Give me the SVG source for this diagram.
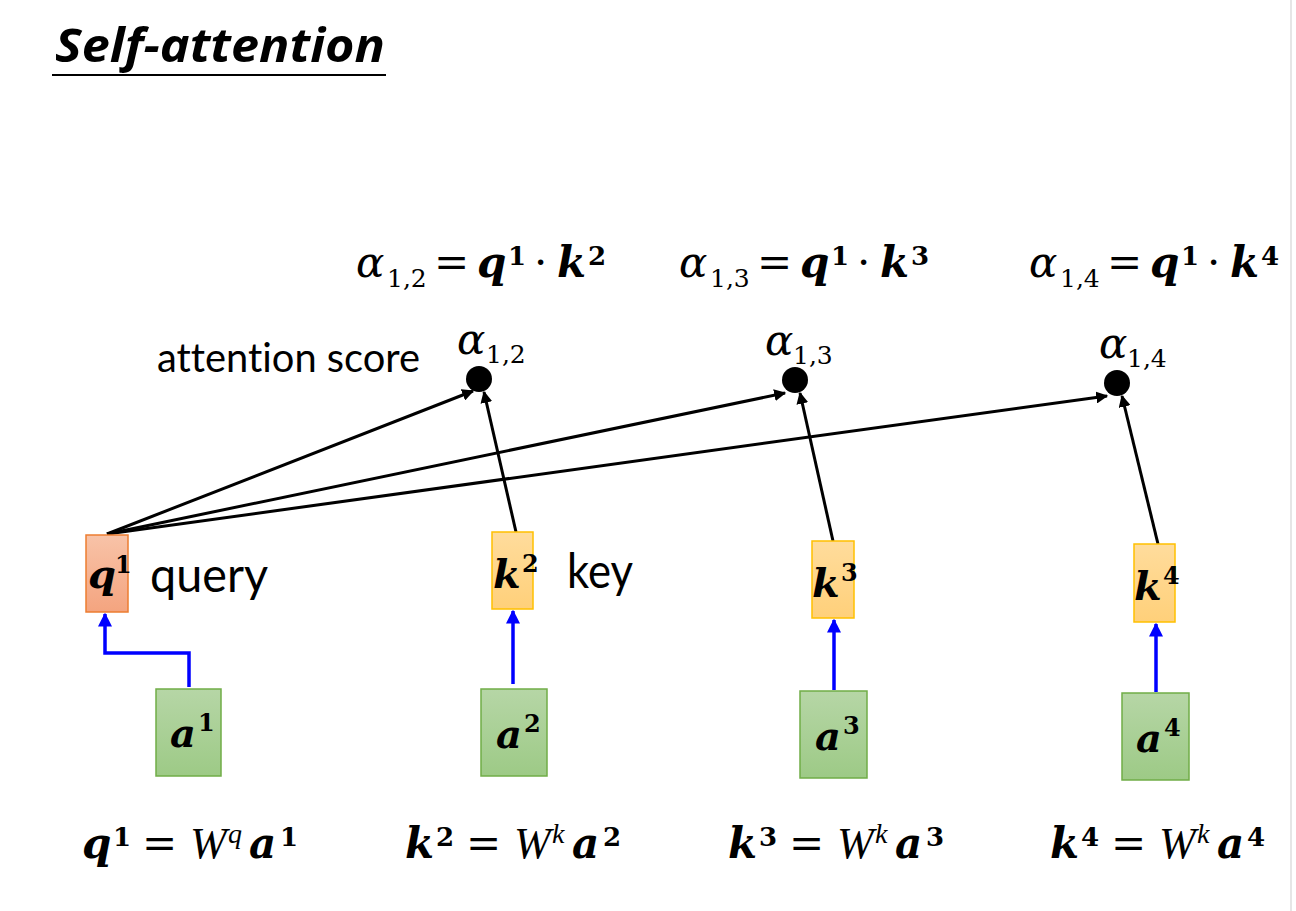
<svg xmlns="http://www.w3.org/2000/svg" width="1296" height="911" viewBox="0 0 1296 911">
<defs>
<linearGradient id="gq" x1="0" y1="0" x2="0" y2="1"><stop offset="0" stop-color="#f8c3a8"/><stop offset="1" stop-color="#f4a47f"/></linearGradient>
<linearGradient id="gk" x1="0" y1="0" x2="0" y2="1"><stop offset="0" stop-color="#ffdc9c"/><stop offset="1" stop-color="#ffd07a"/></linearGradient>
<linearGradient id="ga" x1="0" y1="0" x2="0" y2="1"><stop offset="0" stop-color="#b6d6a6"/><stop offset="1" stop-color="#9dca86"/></linearGradient>
<marker id="ab" viewBox="0 0 10 10" refX="9" refY="5" markerWidth="4" markerHeight="4" orient="auto" markerUnits="strokeWidth"><path d="M0,0 L10,5 L0,10 z" fill="#000"/></marker>
<marker id="au" viewBox="0 0 10 10" refX="9" refY="5" markerWidth="4" markerHeight="4" orient="auto" markerUnits="strokeWidth"><path d="M0,0 L10,5 L0,10 z" fill="#0000ff"/></marker>
</defs>
<style>
.title{font-family:"Open Sans",Lato,sans-serif;font-weight:bold;font-style:italic;font-size:46px;fill:#000;font-variant-ligatures:none}
.lbl{font-family:Lato,"Open Sans",sans-serif;fill:#000;font-variant-ligatures:none}
.m{font-family:"DejaVu Serif","Liberation Serif",serif;font-size:42px;fill:#000}
.bx{font-size:40px}
.it{font-style:italic}
.bi{font-style:italic;font-weight:bold}
.bs{font-family:"DejaVu Serif","Liberation Serif",serif;font-weight:bold;font-size:26px}
.bx .bs{font-size:24px}
.s{font-size:25px}
.w{font-family:"Liberation Serif",serif;font-style:italic;font-size:44px}
.ws{font-family:"Liberation Serif",serif;font-style:italic;font-size:28px}
.q{fill:url(#gq);stroke:#ed7d31;stroke-width:1.5}
.k{fill:url(#gk);stroke:#ffc000;stroke-width:1.5}
.a{fill:url(#ga);stroke:#70ad47;stroke-width:1.5}
.bl{stroke:#000;stroke-width:3;fill:none;marker-end:url(#ab)}
.bu{stroke:#0000ff;stroke-width:3.5;fill:none;marker-end:url(#au)}
</style>
<rect width="1296" height="911" fill="#fff"/>
<line x1="1291" y1="0" x2="1291" y2="911" stroke="#e6e6e6" stroke-width="2"/>
<g id="title">
<text x="55" y="62" class="title" textLength="330" lengthAdjust="spacingAndGlyphs">Self-attention</text>
<line x1="52" y1="75" x2="386" y2="75" stroke="#000" stroke-width="2"/>
</g>
<g id="formulas-top">
<text class="m"><tspan class="it" x="356" y="277">α</tspan><tspan class="s" x="387" y="287">1,2</tspan><tspan x="434" y="277">=</tspan><tspan class="bi" x="477" y="277">q</tspan><tspan class="bs" x="508" y="265">1</tspan><tspan x="534" y="277">·</tspan><tspan class="bi" x="557" y="277">k</tspan><tspan class="bs" x="588" y="265">2</tspan></text>
<text class="m"><tspan class="it" x="679" y="277">α</tspan><tspan class="s" x="710" y="287">1,3</tspan><tspan x="757" y="277">=</tspan><tspan class="bi" x="800" y="277">q</tspan><tspan class="bs" x="831" y="265">1</tspan><tspan x="857" y="277">·</tspan><tspan class="bi" x="880" y="277">k</tspan><tspan class="bs" x="911" y="265">3</tspan></text>
<text class="m"><tspan class="it" x="1029" y="277">α</tspan><tspan class="s" x="1060" y="287">1,4</tspan><tspan x="1107" y="277">=</tspan><tspan class="bi" x="1150" y="277">q</tspan><tspan class="bs" x="1181" y="265">1</tspan><tspan x="1207" y="277">·</tspan><tspan class="bi" x="1230" y="277">k</tspan><tspan class="bs" x="1261" y="265">4</tspan></text>
</g>
<g id="label-attention-score"><text x="157" y="372" class="lbl" font-size="40" textLength="263" lengthAdjust="spacingAndGlyphs">attention score</text></g>
<g id="connectors">
<line x1="107" y1="534" x2="473" y2="391" class="bl"/>
<line x1="107" y1="534" x2="785" y2="393" class="bl"/>
<line x1="107" y1="534" x2="1107" y2="396" class="bl"/>
<line x1="516" y1="532" x2="484" y2="392" class="bl"/>
<line x1="833" y1="541" x2="800" y2="393" class="bl"/>
<line x1="1158" y1="544" x2="1122" y2="396" class="bl"/>
<polyline points="189,687 189,653 105,653 105,614" class="bu"/>
<line x1="513" y1="684" x2="513" y2="611" class="bu"/>
<line x1="834" y1="690" x2="834" y2="620" class="bu"/>
<line x1="1156" y1="692" x2="1156" y2="624" class="bu"/>
</g>
<g id="score12"><circle cx="479" cy="379" r="13" fill="#000"/><text class="m" font-size="40"><tspan class="it" x="457" y="354">α</tspan><tspan class="s" x="486" y="363">1,2</tspan></text></g>
<g id="score13"><circle cx="795" cy="380" r="13" fill="#000"/><text class="m" font-size="40"><tspan class="it" x="765" y="355">α</tspan><tspan class="s" x="793" y="364">1,3</tspan></text></g>
<g id="score14"><circle cx="1117" cy="383" r="13" fill="#000"/><text class="m" font-size="40"><tspan class="it" x="1099" y="358">α</tspan><tspan class="s" x="1127" y="367">1,4</tspan></text></g>
<g id="q1"><rect x="86" y="535" width="42" height="77" class="q"/><text class="m bx"><tspan class="bi" x="88" y="588">q</tspan><tspan class="bs" x="115" y="573">1</tspan></text></g>
<g id="label-query"><text x="150" y="592" class="lbl" font-size="48" textLength="118" lengthAdjust="spacingAndGlyphs">query</text></g>
<g id="k2"><rect x="492" y="532" width="41" height="77" class="k"/><text class="m bx"><tspan class="bi" x="493" y="588">k</tspan><tspan class="bs" x="522" y="572">2</tspan></text></g>
<g id="label-key"><text x="567" y="588" class="lbl" font-size="48" textLength="66" lengthAdjust="spacingAndGlyphs">key</text></g>
<g id="k3"><rect x="812" y="541" width="42" height="77" class="k"/><text class="m bx"><tspan class="bi" x="812" y="597">k</tspan><tspan class="bs" x="841" y="581">3</tspan></text></g>
<g id="k4"><rect x="1134" y="544" width="41" height="78" class="k"/><text class="m bx"><tspan class="bi" x="1134" y="600">k</tspan><tspan class="bs" x="1163" y="584">4</tspan></text></g>
<g id="a1"><rect x="156" y="689" width="65" height="87" class="a"/><text class="m bx"><tspan class="bi" x="170" y="747">a</tspan><tspan class="bs" x="198" y="731">1</tspan></text></g>
<g id="a2"><rect x="481" y="689" width="66" height="87" class="a"/><text class="m bx"><tspan class="bi" x="496" y="748">a</tspan><tspan class="bs" x="524" y="732">2</tspan></text></g>
<g id="a3"><rect x="800" y="691" width="67" height="87" class="a"/><text class="m bx"><tspan class="bi" x="815" y="750">a</tspan><tspan class="bs" x="843" y="734">3</tspan></text></g>
<g id="a4"><rect x="1122" y="693" width="67" height="87" class="a"/><text class="m bx"><tspan class="bi" x="1136" y="752">a</tspan><tspan class="bs" x="1164" y="736">4</tspan></text></g>
<g id="formulas-bottom">
<text class="m"><tspan class="bi" x="82" y="858">q</tspan><tspan class="bs" x="113" y="846">1</tspan><tspan x="142" y="858">=</tspan><tspan class="w" x="190" y="858">W</tspan><tspan class="ws" x="228" y="843">q</tspan><tspan class="bi" x="249" y="858">a</tspan><tspan class="bs" x="280" y="846">1</tspan></text>
<text class="m"><tspan class="bi" x="405" y="858">k</tspan><tspan class="bs" x="436" y="846">2</tspan><tspan x="466" y="858">=</tspan><tspan class="w" x="514" y="858">W</tspan><tspan class="ws" x="552" y="843">k</tspan><tspan class="bi" x="572" y="858">a</tspan><tspan class="bs" x="603" y="846">2</tspan></text>
<text class="m"><tspan class="bi" x="728" y="858">k</tspan><tspan class="bs" x="759" y="846">3</tspan><tspan x="789" y="858">=</tspan><tspan class="w" x="837" y="858">W</tspan><tspan class="ws" x="875" y="843">k</tspan><tspan class="bi" x="895" y="858">a</tspan><tspan class="bs" x="926" y="846">3</tspan></text>
<text class="m"><tspan class="bi" x="1050" y="858">k</tspan><tspan class="bs" x="1081" y="846">4</tspan><tspan x="1111" y="858">=</tspan><tspan class="w" x="1159" y="858">W</tspan><tspan class="ws" x="1197" y="843">k</tspan><tspan class="bi" x="1217" y="858">a</tspan><tspan class="bs" x="1247" y="846">4</tspan></text>
</g>
</svg>
